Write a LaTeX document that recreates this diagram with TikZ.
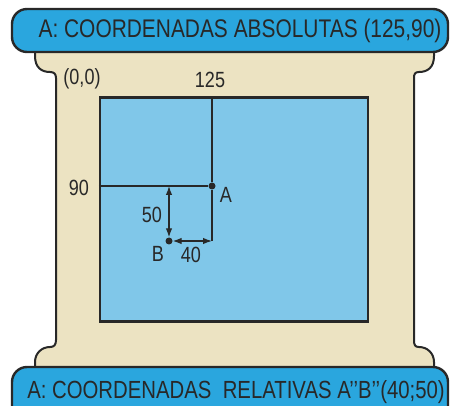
\documentclass[tikz,border=0pt]{standalone}
\usepackage{fontspec}
\setmainfont{Liberation Sans}[FakeStretch=0.82]
\usepackage{tikz}
\usetikzlibrary{positioning,calc,arrows.meta}

\definecolor{bannerblue}{RGB}{42,166,222}
\definecolor{screenblue}{RGB}{128,199,233}
\definecolor{framebeige}{RGB}{236,227,194}
\definecolor{inkgray}{RGB}{40,40,40}

\begin{document}
\begin{tikzpicture}[x=1pt,y=-1pt,
    banner/.style={rectangle,rounded corners=15pt,draw=inkgray,line width=2.4pt,fill=bannerblue,
        minimum width=436pt,inner sep=0pt},
    bannertext/.style={text=inkgray,font=\fontsize{25.5}{28}\selectfont,inner sep=0pt},
    screen/.style={rectangle,draw=inkgray,line width=2.4pt,fill=screenblue,
        minimum width=268pt,minimum height=224pt,inner sep=0pt},
    dot/.style={circle,fill=inkgray,inner sep=0pt,minimum size=7pt},
    lbl/.style={text=inkgray,font=\fontsize{22}{24}\selectfont,inner sep=1pt},
    guide/.style={draw=inkgray,line width=1.2pt},
    measure/.style={draw=inkgray,line width=1.2pt,{Latex[length=9pt,width=6.5pt]}-{Latex[length=9pt,width=6.5pt]}}
]
\useasboundingbox (0,0) rectangle (450,406);

% frame
\draw[fill=framebeige,draw=inkgray,line width=2pt]
    (35,52) -- (35,56) .. controls (35,68) and (42,72) .. (50,72)
    .. controls (54,72) and (56,74) .. (56,78)
    -- (56,340) .. controls (56,345) and (54,347) .. (50,347)
    .. controls (42,347) and (35,353) .. (35,362) -- (35,372)
    -- (434,372) -- (434,362) .. controls (434,353) and (427,347) .. (419,347)
    .. controls (415,347) and (414,345) .. (414,340)
    -- (414,78) .. controls (414,74) and (415,72) .. (419,72)
    .. controls (427,72) and (434,68) .. (434,56) -- (434,52) -- cycle;

\node[screen] (scr) at (234,209.5) {};

\node[banner,minimum height=43pt] (top) at (230,30.5) {};
\node[banner,minimum height=56pt] (bot) at (230,395) {};
\node[bannertext] (toptxt) at (240,30.5) {A: COORDENADAS ABSOLUTAS (125,90)};
\node[bannertext,font=\fontsize{24.8}{27}\selectfont] (bottxt) at (236,392)
    {A: COORDENADAS\ \ RELATIVAS A{'}{'}B{'}{'}(40;50)};

\node[dot] (pA) at (212,186) {};
\node[dot] (pB) at (169,241) {};
\coordinate (corner) at (pA |- pB);

\draw[guide] (scr.north -| pA) -- (pA);
\draw[guide] (scr.west |- pA) -- (pA);
\draw[guide] (pA) -- (corner);
\draw[measure] (pB) -- (pB |- pA);
\draw[measure] (pB) -- (corner);

\node[lbl] (orig) at (82,79) {(0,0)};
\node[lbl] (xval) at (210,80) {125};
\node[lbl] (yval) at (79,188) {90};
\node[lbl] (labA) at (226,195) {A};
\node[lbl] (dy) at (152,215) {50};
\node[lbl] (labB) at (158,254) {B};
\node[lbl] (dx) at (191,255) {40};
\end{tikzpicture}
\end{document}
